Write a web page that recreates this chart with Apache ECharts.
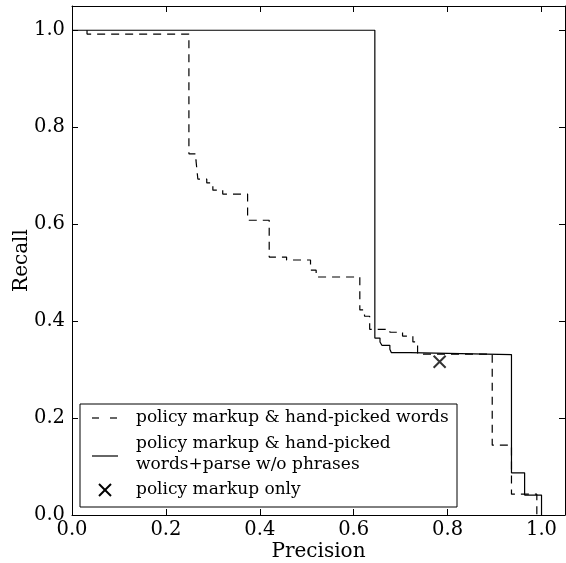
<!DOCTYPE html>
<html>
<head>
<meta charset="utf-8">
<script src="https://cdn.jsdelivr.net/npm/echarts@6/dist/echarts.min.js"></script>
<style>html,body{margin:0;padding:0;background:#fff}#c{width:566px;height:563px}</style>
</head>
<body>
<div id="c"></div>
<script>
// Tick labels
const xTicks = [0.0, 0.2, 0.4, 0.6, 0.8, 1.0];
const yTicks = [0.0, 0.2, 0.4, 0.6, 0.8, 1.0];

// Series: policy markup & hand-picked words (dashed) — [precision, recall] step points
const dashedPrecision = [0.032, 0.032, 0.249, 0.264, 0.268, 0.287, 0.300, 0.321, 0.374, 0.420, 0.457, 0.508, 0.520, 0.613, 0.623, 0.634, 0.677, 0.704, 0.726, 0.736, 0.895, 0.936, 0.990];
const dashedRecall    = [1.000, 0.992, 0.745, 0.732, 0.693, 0.685, 0.670, 0.662, 0.608, 0.532, 0.526, 0.505, 0.491, 0.423, 0.410, 0.383, 0.377, 0.369, 0.357, 0.332, 0.144, 0.043, 0.000];

// Series: policy markup & hand-picked words+parse w/o phrases (solid)
const solidPrecision = [0.000, 0.645, 0.656, 0.660, 0.677, 0.680, 0.720, 0.936, 0.964, 1.000];
const solidRecall    = [1.000, 0.365, 0.357, 0.350, 0.342, 0.335, 0.331, 0.087, 0.041, 0.000];

// Series: policy markup only (single point)
const markupOnlyPrecision = [0.783];
const markupOnlyRecall = [0.316];

const legendLabels = [
  'policy markup & hand-picked words',
  'policy markup & hand-picked\nwords+parse w/o phrases',
  'policy markup only'
];

// build step path: horizontal then vertical between consecutive points
function stepData(xs, ys) {
  const out = [[xs[0], ys[0]]];
  for (let i = 1; i < xs.length; i++) {
    out.push([xs[i], ys[i - 1]]);
    out.push([xs[i], ys[i]]);
  }
  return out;
}

const FONT = 'DejaVu Serif';
const chart = echarts.init(document.getElementById('c'), null, {renderer: 'canvas'});

function axisCommon(showLabels, pos) {
  return {
    type: 'value', min: 0, max: 1.05, interval: 0.2, position: pos,
    axisLine: {show: true, onZero: false, lineStyle: {color: '#000', width: 1}},
    axisTick: {show: true, inside: true, length: 6, lineStyle: {color: '#000', width: 1}},
    splitLine: {show: false},
    axisLabel: {
      show: showLabels, showMaxLabel: false, fontFamily: FONT, fontSize: 19.5, color: '#000',
      formatter: v => (v > 1.0001 ? '' : v.toFixed(1))
    }
  };
}

const xMain = Object.assign(axisCommon(true, 'bottom'), {
  name: 'Precision', nameLocation: 'middle', nameGap: 27, nameMoveOverlap: false,
  nameTextStyle: {fontFamily: FONT, fontSize: 20, color: '#000'}
});
xMain.axisLabel.margin = 5;
const yMain = Object.assign(axisCommon(true, 'left'), {
  name: 'Recall', nameLocation: 'middle', nameGap: 40, nameMoveOverlap: false,
  nameTextStyle: {fontFamily: FONT, fontSize: 20, color: '#000'}
});
yMain.axisLabel.margin = 7;

const LX = 80, LY = 404, LW = 377, LH = 103;
const LFONT = '17px "DejaVu Serif"';

chart.setOption({
  animation: false,
  backgroundColor: '#fff',
  grid: {left: 72, top: 6, right: 1, bottom: 48, containLabel: false, outerBoundsMode: 'none'},
  xAxis: [xMain, axisCommon(false, 'top')],
  yAxis: [yMain, axisCommon(false, 'right')],
  series: [
    {
      type: 'line', name: legendLabels[0], data: stepData(dashedPrecision, dashedRecall),
      showSymbol: false, symbol: 'none', z: 2,
      lineStyle: {color: '#000', width: 1.2, type: [8, 6]}
    },
    {
      type: 'line', name: legendLabels[1], data: stepData(solidPrecision, solidRecall),
      showSymbol: false, symbol: 'none', z: 3,
      lineStyle: {color: '#000', width: 1.2}
    },
    {
      type: 'scatter', name: legendLabels[2],
      data: markupOnlyPrecision.map((p, i) => [p, markupOnlyRecall[i]]),
      symbol: 'path://M0,0L10,10M10,0L0,10', symbolSize: 12, z: 4,
      itemStyle: {color: 'rgba(0,0,0,0)', borderColor: '#000', borderWidth: 2}
    }
  ],
  graphic: [
    {type: 'rect', shape: {x: LX, y: LY, width: LW, height: LH}, z: 10,
     style: {fill: '#fff', stroke: '#000', lineWidth: 1}},
    {type: 'line', shape: {x1: 92, y1: 418, x2: 99, y2: 418}, z: 11, style: {stroke: '#000', lineWidth: 1.2}},
    {type: 'line', shape: {x1: 110, y1: 418, x2: 117, y2: 418}, z: 11, style: {stroke: '#000', lineWidth: 1.2}},
    {type: 'text', x: 136, y: 418, z: 11, style: {text: legendLabels[0], font: LFONT, fill: '#000', textVerticalAlign: 'middle', verticalAlign: 'middle'}},
    {type: 'line', shape: {x1: 92, y1: 456, x2: 118, y2: 456}, z: 11, style: {stroke: '#000', lineWidth: 1.2}},
    {type: 'text', x: 136, y: 454, z: 11, style: {text: legendLabels[1], font: LFONT, lineHeight: 21, fill: '#000', textVerticalAlign: 'middle', verticalAlign: 'middle'}},
    {type: 'line', shape: {x1: 99, y1: 484, x2: 111, y2: 496}, z: 11, style: {stroke: '#000', lineWidth: 2}},
    {type: 'line', shape: {x1: 111, y1: 484, x2: 99, y2: 496}, z: 11, style: {stroke: '#000', lineWidth: 2}},
    {type: 'text', x: 136, y: 490, z: 11, style: {text: legendLabels[2], font: LFONT, fill: '#000', textVerticalAlign: 'middle', verticalAlign: 'middle'}}
  ]
});
</script>
</body>
</html>
